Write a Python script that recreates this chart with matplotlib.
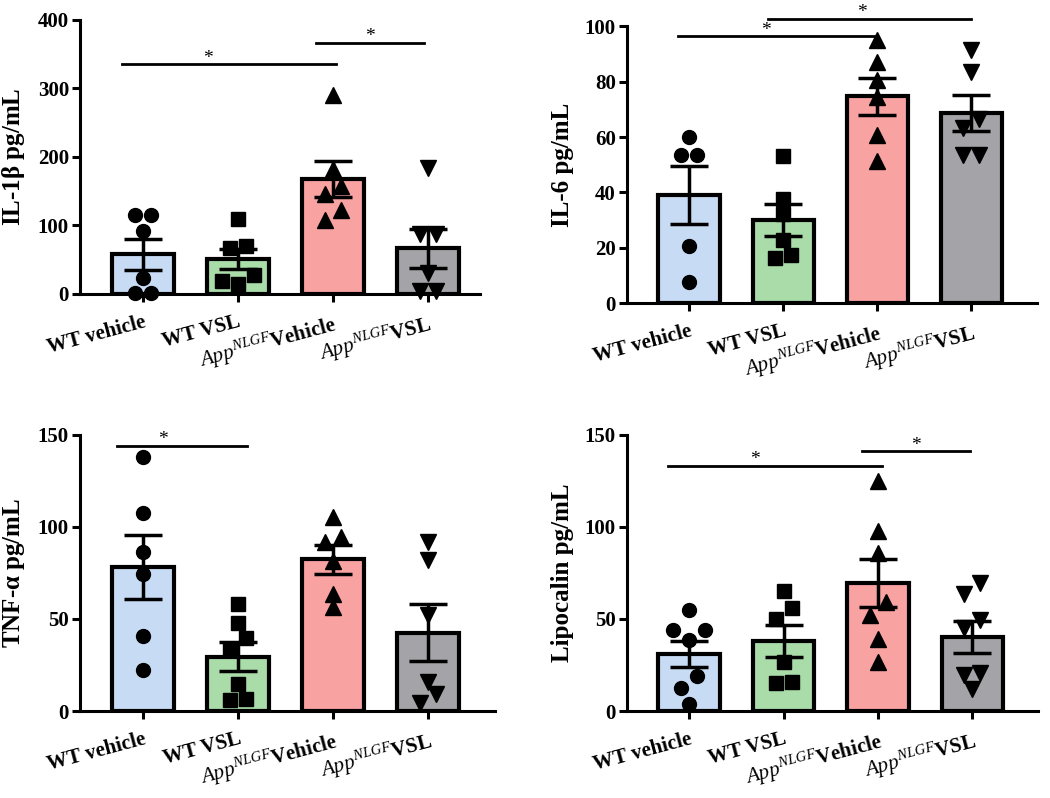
import numpy as np
import matplotlib
matplotlib.use('Agg')
import matplotlib.pyplot as plt

plt.rcParams['font.family'] = 'Liberation Serif'
plt.rcParams['font.weight'] = 'bold'
plt.rcParams['mathtext.fontset'] = 'custom'
plt.rcParams['mathtext.it'] = 'Liberation Serif:italic:weight=normal'
plt.rcParams['mathtext.rm'] = 'Liberation Serif:weight=normal'
plt.rcParams['mathtext.bf'] = 'Liberation Serif:bold'

groups = ['WT vehicle', 'WT VSL',
          r'$\mathit{App}^{\mathit{NLGF}}$Vehicle',
          r'$\mathit{App}^{\mathit{NLGF}}$VSL']
colors = ['#C7DCF4', '#A9DCA9', '#F9A2A2', '#A4A4A8']
markers = ['o', 's', '^', 'v']

# individual animals
il1b = [[115, 115, 92, 24, 1, 1],
        [109, 70, 67, 28, 19, 14],
        [290, 183, 158, 146, 122, 108],
        [184, 88, 88, 31, 4, 4]]
il6 = [[60.2, 53.4, 53.4, 20.8, 7.8],
       [53.1, 37.7, 32.3, 22.9, 16.3, 17.6],
       [95, 87, 80.5, 74.5, 60.6, 51.3],
       [91.6, 83.5, 66.4, 63.4, 53.4, 53.4]]
tnfa = [[138.2, 107.4, 86.2, 74.7, 40.6, 22.5],
        [58, 47.9, 39.4, 33.9, 14.9, 6.2, 6.7],
        [105.6, 92, 94.7, 81.4, 63.8, 56.6],
        [92, 82, 52, 15.8, 9.4, 4.4]]
lipocalin = [[55.1, 43.9, 43.9, 38.5, 18.9, 12.7, 3.6],
             [65.1, 55.7, 50.2, 26.7, 15.2, 15.8],
             [125.2, 97.8, 86, 59.3, 52.4, 39, 26.7],
             [69.7, 63.8, 49.3, 45.2, 20.7, 19.4, 12.2]]

ylabels = [r'IL-1$\mathbf{\beta}$ pg/mL', 'IL-6 pg/mL',
           r'TNF-$\mathbf{\alpha}$ pg/mL', 'Lipocalin pg/mL']
ymax = [400, 100, 150, 150]
ystep = [100, 20, 50, 50]

# significance lines: (x start, x end, height, star x)
sig = [[(-0.22, 2.03, 335, 0.69), (1.82, 2.96, 366, 2.39)],
       [(-0.12, 1.96, 96.4, 0.82), (0.84, 3.0, 102.8, 1.84)],
       [(-0.27, 1.10, 144, 0.21)],
       [(-0.22, 2.04, 133.3, 0.70), (1.83, 2.97, 141, 2.40)]]

positions = [[0.0762, 0.6316, 0.381, 0.3434],
             [0.597, 0.620, 0.391, 0.347],
             [0.0762, 0.109, 0.395, 0.346],
             [0.597, 0.109, 0.392, 0.346]]
xlims = [(-0.66, 3.55), (-0.66, 3.7), (-0.66, 3.7), (-0.66, 3.7)]


def swarm(vals, thresh, d=0.17):
    order = np.argsort(vals)
    offs = np.zeros(len(vals))
    clusters = []
    for i in order:
        if clusters and vals[i] - vals[clusters[-1][0]] < thresh:
            clusters[-1].append(i)
        else:
            clusters.append([i])
    for c in clusters:
        n = len(c)
        slots = sorted([k - (n - 1) / 2 for k in range(n)], key=lambda s: (abs(s), s))
        for i, s in zip(c, slots):
            offs[i] = s * d
    return offs


fig = plt.figure(figsize=(10.5, 7.98), dpi=100)
x = np.arange(4)
for p, data in enumerate([il1b, il6, tnfa, lipocalin]):
    ax = fig.add_axes(positions[p])
    means = [np.mean(v) for v in data]
    sems = [np.std(v, ddof=1) / np.sqrt(len(v)) for v in data]
    ax.bar(x, means, width=0.65, color=colors, edgecolor='black', linewidth=3, zorder=1)
    ax.errorbar(x, means, yerr=sems, fmt='none', ecolor='black', elinewidth=2.5,
                capsize=14, capthick=2.5, zorder=3)
    thresh = ymax[p] * 0.047
    for i, v in enumerate(data):
        v = np.array(v, dtype=float)
        ms = {'o': 10, 's': 9.5, '^': 11.5, 'v': 11.5}[markers[i]]
        ax.plot(x[i] + swarm(v, thresh), v, linestyle='none', marker=markers[i],
                color='black', markersize=ms, zorder=4, clip_on=False)
    for x0, x1, h, sx in sig[p]:
        ax.plot([x0, x1], [h, h], color='black', lw=2, clip_on=False)
        ax.annotate('*', (sx, h), xytext=(0, 4.5), textcoords='offset points',
                    ha='center', va='center', fontsize=14, fontweight='normal',
                    annotation_clip=False)
    ax.set_xlim(*xlims[p])
    ax.set_ylim(0, ymax[p])
    ax.set_yticks(np.arange(0, ymax[p] + 1, ystep[p]))
    ax.set_xticks(x)
    ax.set_xticklabels(groups, rotation=15, ha='right', rotation_mode='anchor', fontsize=15)
    ax.set_ylabel(ylabels[p], fontsize=18, fontweight='bold', labelpad=8)
    for s in ['top', 'right']:
        ax.spines[s].set_visible(False)
    for s in ['left', 'bottom']:
        ax.spines[s].set_linewidth(2.2)
    ax.tick_params(axis='both', width=2.2, length=6)
    ax.tick_params(axis='y', labelsize=15, pad=2)
    ax.tick_params(axis='x', pad=7)

fig.savefig('out.png', dpi=100)
